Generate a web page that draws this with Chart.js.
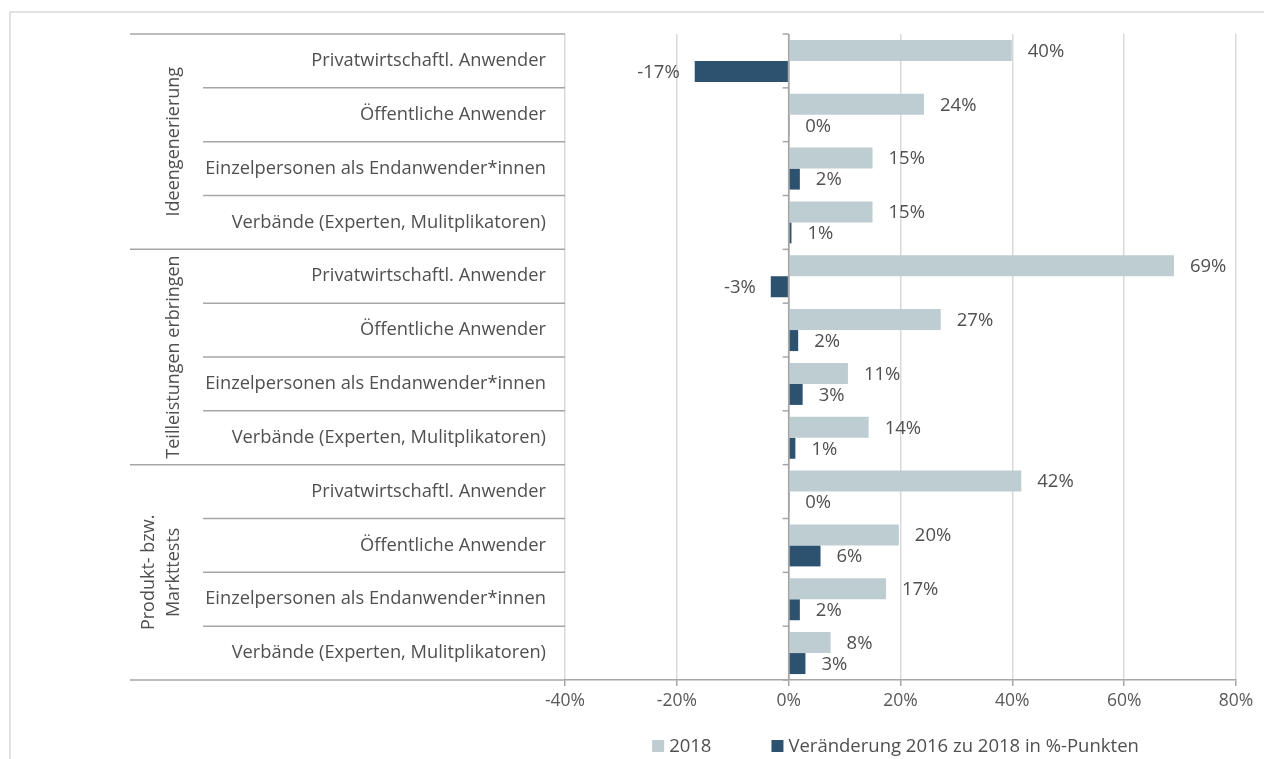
<!DOCTYPE html>
<html lang="de">
<head>
    <meta charset="UTF-8">
    <title>Einbindung von Anwendern</title>
    <script src="https://cdn.jsdelivr.net/npm/chart.js"></script>
    <style>
        body { margin: 0; background: #fff; }
        #wrap { width: 1264px; height: 759px; }
    </style>
</head>
<body>
<div id="wrap"><canvas id="chart" width="1264" height="759"></canvas></div>

<script>
const groups = ['Ideengenerierung', 'Teilleistungen erbringen', ['Produkt- bzw.', 'Markttests']];
const categories = [
    'Privatwirtschaftl. Anwender', 'Öffentliche Anwender', 'Einzelpersonen als Endanwender*innen', 'Verbände (Experten, Mulitplikatoren)',
    'Privatwirtschaftl. Anwender', 'Öffentliche Anwender', 'Einzelpersonen als Endanwender*innen', 'Verbände (Experten, Mulitplikatoren)',
    'Privatwirtschaftl. Anwender', 'Öffentliche Anwender', 'Einzelpersonen als Endanwender*innen', 'Verbände (Experten, Mulitplikatoren)'
];
const values2018 = [39.9, 24.2, 15.0, 15.0, 68.9, 27.2, 10.6, 14.3, 41.6, 19.7, 17.4, 7.5];
const change = [-16.8, 0.1, 2.0, 0.5, -3.2, 1.7, 2.5, 1.2, 0.1, 5.7, 2.0, 3.0];
const seriesNames = ['2018', 'Veränderung 2016 zu 2018 in %-Punkten'];
const xMin = -40, xMax = 80, xStep = 20;

const colLight = '#bdcdd1';
const colDark = '#2c5270';
const textCol = '#505050';
const lineCol = '#a6a6a6';
const font = 'Open Sans';

// labels, separators, group titles, legend and frame
const extras = {
    id: 'extras',
    beforeDraw(chart) {
        const c = chart.ctx;
        c.save();
        c.strokeStyle = '#d9d9d9';
        c.lineWidth = 1.5;
        c.beginPath();
        c.moveTo(10, 759); c.lineTo(10, 12); c.lineTo(1264, 12);
        c.stroke();
        c.restore();
    },
    afterDraw(chart) {
        const c = chart.ctx, a = chart.chartArea;
        const y = chart.scales.y, x = chart.scales.x;
        const x0 = x.getPixelForValue(0);
        const n = categories.length;
        const bounds = [];
        for (let i = 0; i <= n; i++) {
            if (i === 0) bounds.push(a.top);
            else if (i === n) bounds.push(a.bottom);
            else bounds.push((y.getPixelForValue(i - 1) + y.getPixelForValue(i)) / 2);
        }
        c.save();
        c.strokeStyle = lineCol;
        c.lineWidth = 1.5;
        bounds.forEach((b, i) => {
            c.beginPath();
            c.moveTo(i % 4 === 0 ? 130 : 203, b);
            c.lineTo(a.left, b);
            c.stroke();
            // small ticks on zero line
            c.beginPath();
            c.moveTo(x0 - 6, b);
            c.lineTo(x0, b);
            c.stroke();
        });
        c.beginPath();
        c.moveTo(x0, a.top); c.lineTo(x0, a.bottom);
        c.stroke();

        // group titles
        c.fillStyle = textCol;
        c.font = '18px "' + font + '"';
        c.textAlign = 'center';
        c.textBaseline = 'middle';
        groups.forEach((g, k) => {
            const yc = (bounds[k * 4] + bounds[k * 4 + 4]) / 2;
            const lines = Array.isArray(g) ? g : [g];
            c.save();
            c.translate(0, yc);
            c.rotate(-Math.PI / 2);
            lines.forEach((t, j) => {
                const xx = 174 - (lines.length - 1 - j) * 25;
                c.fillText(t, 0, xx);
            });
            c.restore();
        });

        // legend
        c.font = '18.5px "' + font + '"';
        c.textAlign = 'left';
        const gap = 60, box = 12, sp = 5;
        const w0 = c.measureText(seriesNames[0]).width;
        const w1 = c.measureText(seriesNames[1]).width;
        const total = box + sp + w0 + gap + box + sp + w1;
        let lx = (a.left + a.right) / 2 - total / 2 - 5;
        const ly = 746;
        [[colLight, seriesNames[0], w0], [colDark, seriesNames[1], w1]].forEach(([col, t, w]) => {
            c.fillStyle = col;
            c.fillRect(lx, ly - box / 2, box, box);
            c.fillStyle = textCol;
            c.fillText(t, lx + box + sp, ly + 1);
            lx += box + sp + w + gap;
        });
        c.restore();
    },
    afterDatasetsDraw(chart) {
        const c = chart.ctx;
        c.save();
        c.font = '18.5px "' + font + '"';
        c.fillStyle = textCol;
        c.textBaseline = 'middle';
        chart.data.datasets.forEach((ds, di) => {
            chart.getDatasetMeta(di).data.forEach((el, i) => {
                const v = ds.data[i];
                const t = Math.round(v) + '%';
                if (v < 0) {
                    c.textAlign = 'right';
                    c.fillText(t, el.x - 15, el.y + 1);
                } else {
                    c.textAlign = 'left';
                    c.fillText(t, el.x + 16, el.y + 1);
                }
            });
        });
        c.restore();
    }
};

new Chart(document.getElementById('chart'), {
    type: 'bar',
    data: {
        labels: categories,
        datasets: [
            { label: seriesNames[0], data: values2018, backgroundColor: colLight },
            { label: seriesNames[1], data: change, backgroundColor: colDark }
        ]
    },
    options: {
        indexAxis: 'y',
        responsive: false,
        animation: false,
        devicePixelRatio: 1,
        categoryPercentage: 0.78,
        barPercentage: 1.0,
        layout: { padding: { top: 34, right: 28, left: 0, bottom: 0 } },
        plugins: {
            legend: { display: false },
            tooltip: { enabled: false }
        },
        scales: {
            x: {
                min: xMin, max: xMax,
                ticks: {
                    stepSize: xStep,
                    color: '#595959',
                    font: { family: font, size: 17.5 },
                    padding: 5,
                    callback: v => v + '%'
                },
                grid: {
                    color: ctx => ctx.tick && ctx.tick.value === 0 ? lineCol : '#d9d9d9',
                    lineWidth: 1.5,
                    tickLength: 6,
                    tickColor: lineCol
                },
                border: { color: lineCol, width: 1.5 },
                afterFit: s => { s.height = 79; }
            },
            y: {
                ticks: {
                    color: textCol,
                    font: { family: font, size: 18.3 },
                    padding: 19
                },
                grid: { display: false, drawTicks: false },
                border: { display: false },
                afterFit: s => { s.width = 565; }
            }
        }
    },
    plugins: [extras]
});
</script>
</body>
</html>
